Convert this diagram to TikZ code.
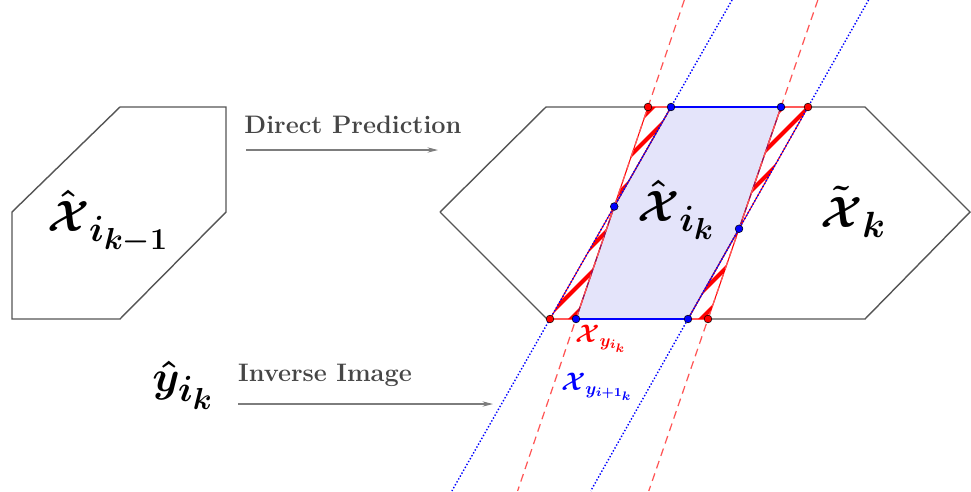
\documentclass[tikz,border=0pt]{standalone}
\usepackage{amsmath,bm}
\usetikzlibrary{arrows.meta,calc}
\definecolor{hexgray}{RGB}{85,85,85}
\definecolor{arrowgray}{RGB}{125,125,125}
\definecolor{textgray}{RGB}{70,70,70}
\definecolor{setfill}{RGB}{228,228,250}
\definecolor{edgepurple}{RGB}{150,20,90}
\definecolor{dashred}{RGB}{255,85,85}
\begin{document}
\begin{tikzpicture}[x=0.02cm, y=-0.02cm,
    hexline/.style={hexgray, line width=0.8pt, line join=miter},
    maparrow/.style={arrowgray, line width=0.6pt, -{Stealth[length=6pt,width=3pt]}},
    maptext/.style={textgray, font=\Large\bfseries},
    setlabel/.style={font=\Huge},
    dot/.style={circle, draw=black, line width=0.3pt, inner sep=0pt, minimum size=4.4pt},
    reddot/.style={dot, fill=red},
    bluedot/.style={dot, fill=blue},
    hatchline/.style={red, line width=2.4pt},
    redline/.style={dashred, line width=0.7pt, dash pattern=on 4.5pt off 3pt},
    blueline/.style={blue, line width=0.8pt, dash pattern=on 0.8pt off 1.1pt}]
    \useasboundingbox (0,0) rectangle (971,491);
    \coordinate (rA) at (648,107);
    \coordinate (rB) at (576,319);
    \coordinate (rC) at (781,107);
    \coordinate (rD) at (708,319);
    \coordinate (bA) at (671,107);
    \coordinate (bB) at (550,319);
    \coordinate (bC) at (808,107);
    \coordinate (bD) at (688,319);
    \coordinate (iL) at (intersection of rA--rB and bA--bB);
    \coordinate (iR) at (intersection of rC--rD and bC--bD);
    \fill[setfill] (bA) -- (rC) -- (iR) -- (bD) -- (rB) -- (iL) -- cycle;
    \begin{scope}
        \clip (rA) -- (bA) -- (iL) -- cycle (iL) -- (rB) -- (bB) -- cycle
              (rC) -- (bC) -- (iR) -- cycle (iR) -- (rD) -- (bD) -- cycle;
        \foreach \c in {760,786,812,838,864,890,916,942,968,994,1020} {
            \draw[hatchline] (\c,0) -- (\c-400,400);
        }
    \end{scope}
    \draw[red, line width=0.6pt] (rA) -- (bA) -- (iL) -- cycle (iL) -- (rB) -- (bB) -- cycle
          (rC) -- (bC) -- (iR) -- cycle (iR) -- (rD) -- (bD) -- cycle;
    \draw[edgepurple, line width=0.7pt] (bA) -- (iL) -- (rB) (rC) -- (iR) -- (bD);
    \draw[blue, line width=0.7pt] (bA) -- (rC) (rB) -- (bD);
    \draw[redline] ($(rA)!-0.505!(rB)$) -- ($(rA)!1.811!(rB)$);
    \draw[redline] ($(rC)!-0.505!(rD)$) -- ($(rC)!1.811!(rD)$);
    \draw[blueline] ($(bA)!-0.505!(bB)$) -- ($(bA)!1.811!(bB)$);
    \draw[blueline] ($(bC)!-0.505!(bD)$) -- ($(bC)!1.811!(bD)$);
    \draw[hexline] (12,212) -- (120,107) -- (226,107) -- (226,212) -- (120,319) -- (12,319) -- cycle;
    \draw[hexline] (440,212) -- (546,107) -- (rA) (bC) -- (865,107) -- (970,212) -- (865,319) -- (rD)
          (bB) -- (547,319) -- (440,212);
    \node[reddot] (pA) at (rA) {};
    \node[reddot] (pC) at (bC) {};
    \node[reddot] (pB) at (bB) {};
    \node[reddot] (pD) at (rD) {};
    \node[bluedot] (qA) at (bA) {};
    \node[bluedot] (qC) at (rC) {};
    \node[bluedot] (qB) at (rB) {};
    \node[bluedot] (qD) at (bD) {};
    \node[bluedot] (qL) at (iL) {};
    \node[bluedot] (qR) at (iR) {};
    \node[setlabel] (prevset) at (108,222) {$\bm{\hat{\mathcal{X}}_{i_{k-1}}}$};
    \node[setlabel] (curset) at (676,210) {$\bm{\hat{\mathcal{X}}_{i_k}}$};
    \node[setlabel] (predset) at (853,212) {$\bm{\tilde{\mathcal{X}}_k}$};
    \node[setlabel] (meas) at (183,385) {$\bm{\hat{y}_{i_k}}$};
    \node[red, font=\Large] (redset) at (601,339) {$\bm{\mathcal{X}_{y_{i_k}}}$};
    \node[blue, font=\Large] (blueset) at (597,387) {$\bm{\mathcal{X}_{y_{i+1_k}}}$};
    \node[maptext] (dptext) at (353,125) {Direct Prediction};
    \node[maptext] (iitext) at (325,375) {Inverse Image};
    \coordinate (dpstart) at (246,150);
    \coordinate (dpend) at (438,150);
    \coordinate (iistart) at (238,404);
    \coordinate (iiend) at (493,404);
    \draw[maparrow] (dpstart) -- (dpend);
    \draw[maparrow] (iistart) -- (iiend);
\end{tikzpicture}
\end{document}
